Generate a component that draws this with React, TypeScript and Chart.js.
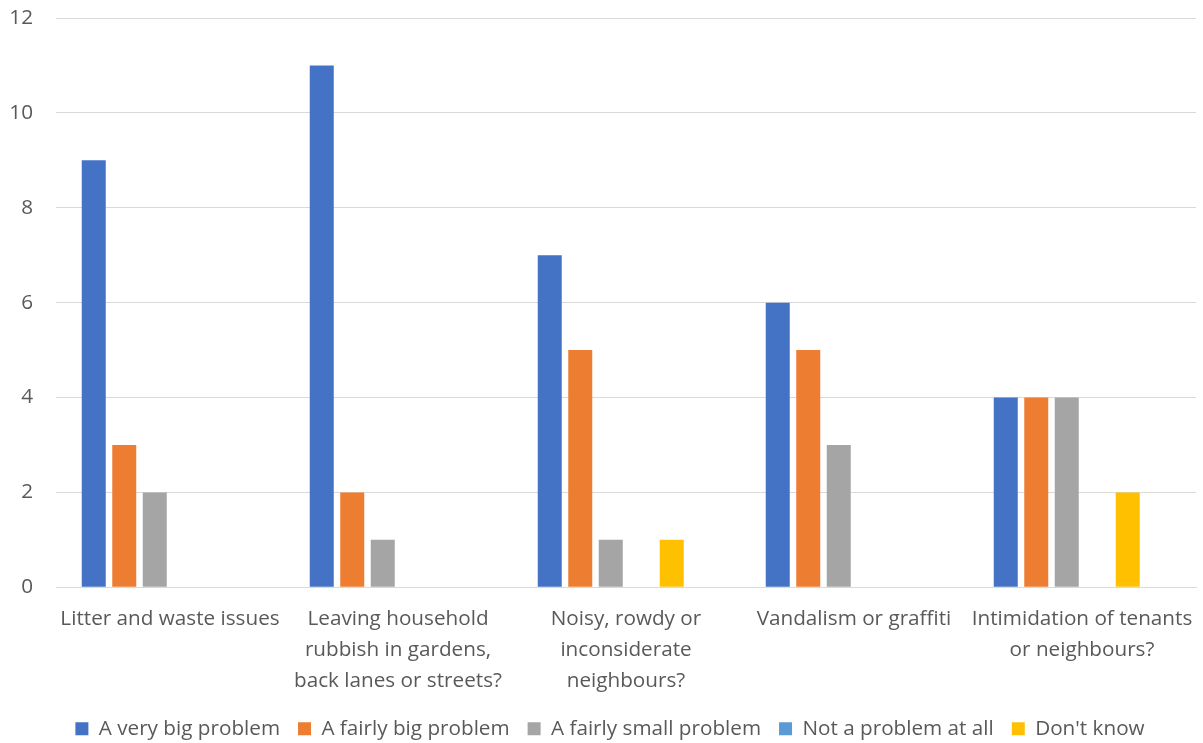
import React, { useEffect, useRef } from "react";
import { Chart, registerables } from "chart.js";

Chart.register(...registerables);

const categories: string[][] = [
  ["Litter and waste issues"],
  ["Leaving household", "rubbish in gardens,", "back lanes or streets?"],
  ["Noisy, rowdy or", "inconsiderate", "neighbours?"],
  ["Vandalism or graffiti"],
  ["Intimidation of tenants", "or neighbours?"],
];

const seriesNames = [
  "A very big problem",
  "A fairly big problem",
  "A fairly small problem",
  "Not a problem at all",
  "Don't know",
];

const veryBig = [9, 11, 7, 6, 4];
const fairlyBig = [3, 2, 5, 5, 4];
const fairlySmall = [2, 1, 1, 3, 4];
const notAProblem = [0, 0, 0, 0, 0];
const dontKnow = [0, 0, 1, 0, 2];

const colors = ["#4472C4", "#ED7D31", "#A5A5A5", "#5B9BD5", "#FFC000"];

const yMin = 0;
const yMax = 12;
const yStep = 2;

const FONT = "'Open Sans', sans-serif";
const FS = 20.7;
const TEXT = "#595959";

const legendShift = {
  id: "legendShift",
  afterLayout(chart: any) {
    if (chart.legend) {
      chart.legend.left += 12;
      chart.legend.right += 12;
    }
  },
};

export default function App() {
  const ref = useRef<HTMLCanvasElement | null>(null);

  useEffect(() => {
    document.body.style.margin = "0";
    if (!ref.current) return;
    const values = [veryBig, fairlyBig, fairlySmall, notAProblem, dontKnow];
    const datasets: any[] = seriesNames.map((name, i) => ({
      label: name,
      data: values[i],
      backgroundColor: colors[i],
      borderWidth: 0,
      categoryPercentage: 0.8026,
      barPercentage: 0.787,
    }));
    // empty spacer slot (Excel's trailing gap between grouped bars)
    datasets.push({
      label: "",
      data: categories.map(() => null),
      backgroundColor: "rgba(0,0,0,0)",
      borderWidth: 0,
      categoryPercentage: 0.8026,
      barPercentage: 0.787,
    });
    const chart = new Chart(ref.current, {
      type: "bar",
      data: { labels: categories, datasets },
      plugins: [legendShift],
      options: {
        animation: false,
        responsive: false,
        maintainAspectRatio: false,
        layout: { padding: { left: 0, right: 7, top: 18, bottom: -6 } },
        plugins: {
          tooltip: { enabled: false },
          legend: {
            position: "bottom",
            labels: {
              boxWidth: 13,
              boxHeight: 13,
              padding: 18,
              color: TEXT,
              font: { family: FONT, size: FS },
              filter: (item: any) => item.text !== "",
            },
          },
        },
        scales: {
          x: {
            grid: { display: false },
            border: { display: true, color: "#D9D9D9", width: 1 },
            ticks: {
              color: TEXT,
              font: { family: FONT, size: FS, lineHeight: 1.5 },
              maxRotation: 0,
              autoSkip: false,
              padding: 8,
            },
            afterFit: (scale: any) => {
              scale.height = 113;
              scale.paddingLeft = 0;
              scale.paddingRight = 0;
            },
          },
          y: {
            min: yMin,
            max: yMax,
            ticks: {
              stepSize: yStep,
              color: TEXT,
              font: { family: FONT, size: FS },
              padding: 23,
            },
            grid: { color: "#D9D9D9", lineWidth: 1, drawTicks: false },
            border: { display: false },
            afterFit: (scale: any) => {
              scale.width = 56;
              scale.paddingTop = 0;
              scale.paddingBottom = 0;
            },
          },
        },
      },
    });
    return () => chart.destroy();
  }, []);

  return (
    <div style={{ position: "fixed", left: 0, top: 0, width: 1203, height: 743 }}>
      <canvas ref={ref} width={1203} height={743} style={{ width: 1203, height: 743 }} />
    </div>
  );
}
